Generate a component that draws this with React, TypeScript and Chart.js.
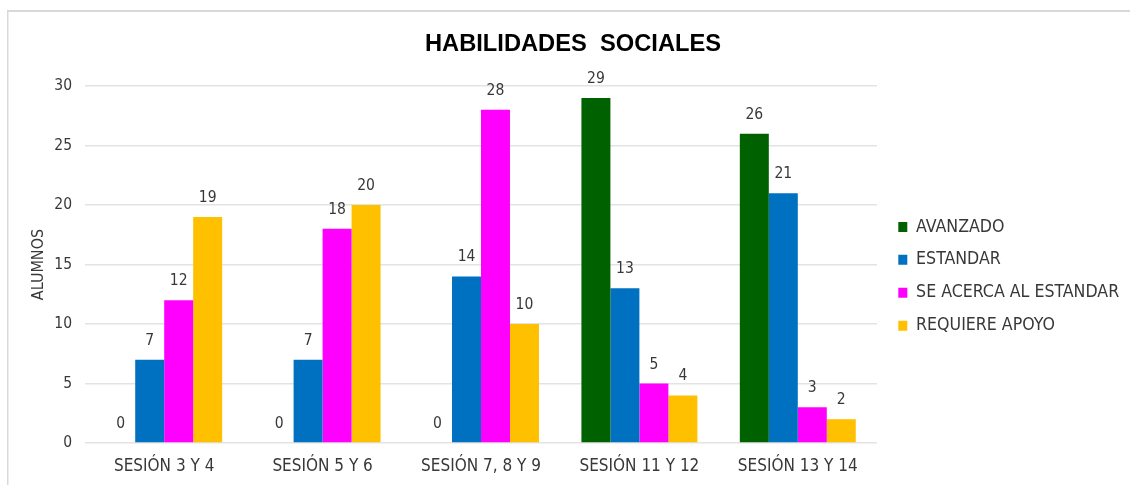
import React, { useEffect, useRef } from "react";
import { Chart, registerables } from "chart.js";

Chart.register(...registerables);

const categories = ["SESIÓN 3 Y 4", "SESIÓN 5 Y 6", "SESIÓN 7, 8 Y 9", "SESIÓN 11 Y 12", "SESIÓN 13 Y 14"];
const avanzado = [0, 0, 0, 29, 26];
const estandar = [7, 7, 14, 13, 21];
const seAcerca = [12, 18, 28, 5, 3];
const requiereApoyo = [19, 20, 10, 4, 2];
const seriesNames = ["AVANZADO", "ESTANDAR", "SE ACERCA AL ESTANDAR", "REQUIERE APOYO"];
const seriesColors = ["#006100", "#0070C0", "#FF00FF", "#FFC000"];
const titleText = "HABILIDADES  SOCIALES";
const yAxisTitle = "ALUMNOS";
const yMin = 0;
const yMax = 30;
const yStep = 5;

const FONT = "'DejaVu Sans Condensed', 'Liberation Sans', Arial, sans-serif";
const TITLE_FONT = "'Liberation Sans', Arial, sans-serif";
const TEXT = "#383838";

const framePlugin = {
  id: "frame",
  beforeDraw(chart: any) {
    const ctx = chart.ctx;
    ctx.save();
    ctx.fillStyle = "#d9d9d9";
    ctx.fillRect(7, 10, chart.width - 7, 2);
    ctx.fillRect(7, 10, 1.5, chart.height - 10);
    ctx.restore();
  },
};

const legendPlacePlugin = {
  id: "legendPlace",
  afterLayout(chart: any) {
    const l = chart.legend;
    if (!l) return;
    l.left = 883;
    l.right = l.left + l.width;
    l.top += 11.8;
    l.bottom += 11.8;
  },
};

const valueLabelPlugin = {
  id: "valueLabels",
  afterDatasetsDraw(chart: any) {
    const ctx = chart.ctx;
    ctx.save();
    ctx.font = `15.5px ${FONT}`;
    ctx.fillStyle = TEXT;
    ctx.textAlign = "center";
    ctx.textBaseline = "middle";
    chart.data.datasets.forEach((ds: any, i: number) => {
      const meta = chart.getDatasetMeta(i);
      meta.data.forEach((el: any, j: number) => {
        ctx.fillText(String(ds.data[j]), el.x, el.y - 19);
      });
    });
    ctx.restore();
  },
};

export default function App() {
  const ref = useRef<HTMLCanvasElement | null>(null);
  useEffect(() => {
    if (!ref.current) return;
    const seriesData = [avanzado, estandar, seAcerca, requiereApoyo];
    const chart = new Chart(ref.current, {
      type: "bar",
      data: {
        labels: categories,
        datasets: seriesNames.map((name, i) => ({
          label: name,
          data: seriesData[i],
          backgroundColor: seriesColors[i],
          borderWidth: 0,
          categoryPercentage: 0.732,
          barPercentage: 1,
        })),
      },
      options: {
        responsive: false,
        animation: false,
        layout: { padding: { left: 29, right: 13, top: 0, bottom: 0 } },
        plugins: {
          title: {
            display: true,
            text: titleText,
            color: "#000000",
            font: { family: TITLE_FONT, size: 23.7, weight: "bold" },
            padding: { top: 29.8, bottom: 27.8 },
          },
          legend: {
            display: true,
            position: "right",
            fullSize: false,
            align: "center",
            maxWidth: 240,
            labels: {
              boxWidth: 9,
              boxHeight: 10,
              padding: 15.3,
              color: TEXT,
              font: { family: FONT, size: 17.6 },
            },
          },
          tooltip: { enabled: false },
        },
        scales: {
          x: {
            grid: { display: false, drawTicks: false },
            border: { display: false },
            ticks: { color: TEXT, font: { family: FONT, size: 17 }, padding: 13.8, maxRotation: 0, autoSkip: false },
            afterFit: (scale: any) => {
              scale.height = 42;
            },
          },
          y: {
            min: yMin,
            max: yMax,
            ticks: { stepSize: yStep, color: TEXT, font: { family: FONT, size: 15.5 }, padding: 13 },
            grid: { color: "#e3e3e3", lineWidth: 1.5, drawTicks: false },
            border: { display: false },
            title: {
              display: true,
              text: yAxisTitle,
              color: TEXT,
              font: { family: FONT, size: 16 },
              padding: { top: 0, bottom: 0 },
            },
            afterFit: (scale: any) => {
              scale.width = 56;
            },
          },
        },
      },
      plugins: [framePlugin, legendPlacePlugin, valueLabelPlugin],
    });
    return () => chart.destroy();
  }, []);
  return (
    <div style={{ position: "fixed", left: 0, top: 0, width: 1130, height: 485, background: "#ffffff" }}>
      <canvas ref={ref} width={1130} height={485} style={{ width: 1130, height: 485, display: "block" }} />
    </div>
  );
}
